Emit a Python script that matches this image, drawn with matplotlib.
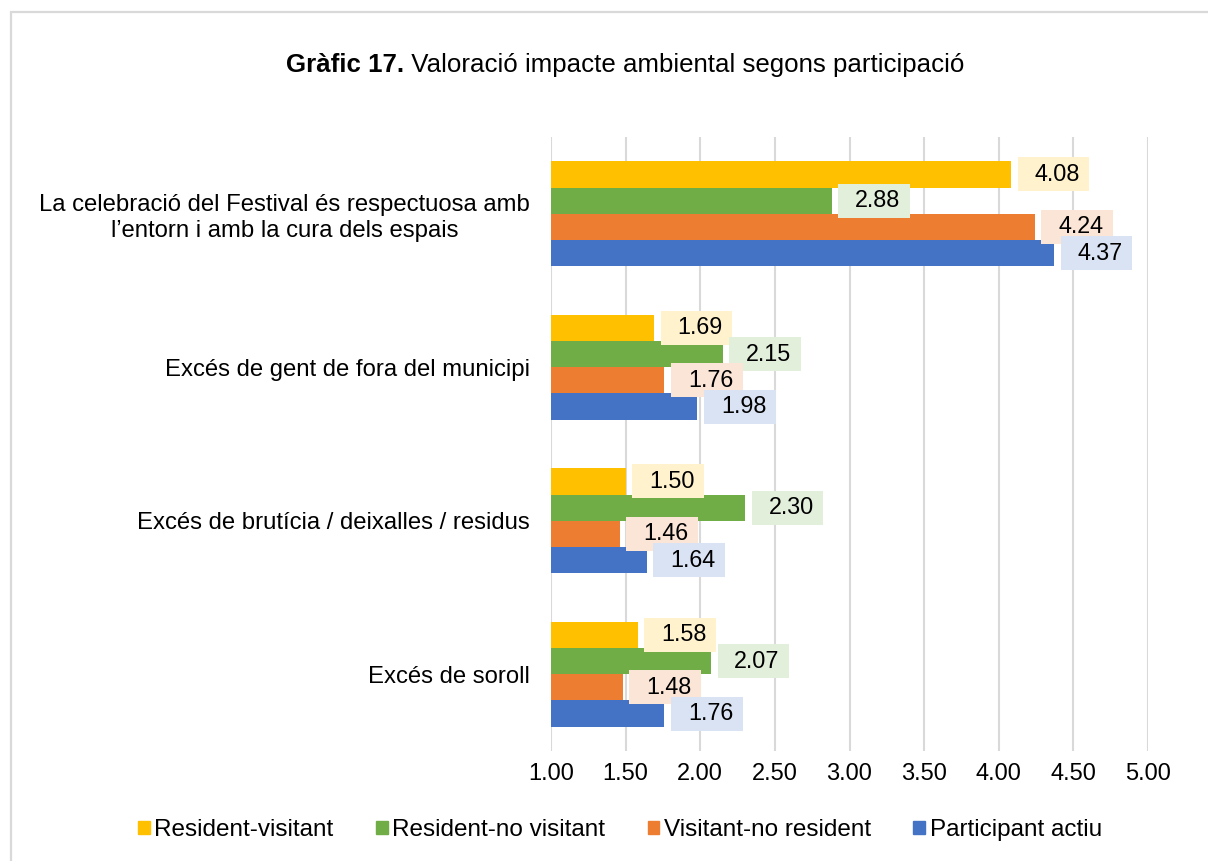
import matplotlib
matplotlib.use("Agg")
import matplotlib.pyplot as plt
import numpy as np
from matplotlib.path import Path
from matplotlib.patches import Patch, Rectangle

plt.rcParams["font.family"] = ["Liberation Sans", "DejaVu Sans"]

# data, top to bottom
categories = [
    "La celebració del Festival és respectuosa amb\nl\u2019entorn i amb la cura dels espais",
    "Excés de gent de fora del municipi",
    "Excés de brutícia / deixalles / residus",
    "Excés de soroll",
]
series_names = ["Resident-visitant", "Resident-no visitant", "Visitant-no resident", "Participant actiu"]
resident_visitant = [4.08, 1.69, 1.50, 1.58]
resident_no_visitant = [2.88, 2.15, 2.30, 2.07]
visitant_no_resident = [4.24, 1.76, 1.46, 1.48]
participant_actiu = [4.37, 1.98, 1.64, 1.76]
x_ticks = [1.00, 1.50, 2.00, 2.50, 3.00, 3.50, 4.00, 4.50, 5.00]

series = [resident_visitant, resident_no_visitant, visitant_no_resident, participant_actiu]
colors = ["#FFC000", "#70AD47", "#ED7D31", "#4472C4"]
box_colors = ["#FFF2CC", "#E2EFDA", "#FBE5D6", "#DAE3F3"]


def label_box(x0, y0, width, height, mutation_size):
    # wider padding on the left, like the Excel data label boxes
    l = x0 - 0.72 * mutation_size
    r = x0 + width + 0.40 * mutation_size
    b = y0 - 0.24 * mutation_size
    t = y0 + height + 0.24 * mutation_size
    return Path([(l, b), (r, b), (r, t), (l, t), (l, b)], closed=True)


fig = plt.figure(figsize=(12.08, 8.61), dpi=100)
ax = fig.add_axes([551 / 1208, 1 - 751 / 861, (1148 - 551) / 1208, (751 - 137) / 861])

h = 0.171
pos = np.arange(len(categories))
for i, (vals, c, bc) in enumerate(zip(series, colors, box_colors)):
    y = pos + (i - 1.5) * h
    ax.barh(y, vals, height=h, color=c, zorder=2, label=series_names[i])
    for v, yy in zip(vals, y):
        ax.annotate(f"{v:.2f}", xy=(v, yy), xytext=(17, 0), textcoords="offset points",
                    ha="left", va="center", fontsize=16.8, color="black", zorder=4,
                    bbox=dict(boxstyle=label_box, fc=bc, ec="none"))

ax.set_xlim(1, 5)
ax.set_ylim(len(categories) - 0.5, -0.5)
ax.set_xticks(x_ticks)
ax.set_xticklabels([f"{t:.2f}" for t in x_ticks])
ax.set_yticks(pos)
ax.set_yticklabels(categories, multialignment="center")
ax.tick_params(axis="y", length=0, pad=15, labelsize=17.2)
ax.tick_params(axis="x", length=0, pad=9, labelsize=17)
ax.grid(axis="x", color="#D9D9D9", lw=1.5, zorder=0)
ax.set_axisbelow(True)
for s in ax.spines.values():
    s.set_visible(False)

# legend
handles = [Patch(color=c) for c in colors]
fig.legend(handles, series_names, loc="center", bbox_to_anchor=(620 / 1208, 1 - 830 / 861),
           ncol=4, frameon=False, fontsize=17.5, handlelength=0.48, handleheight=0.48,
           handletextpad=0.18, columnspacing=1.75)

# title: bold part + regular part, centred together
t1 = fig.text(0.2, 1 - 65 / 861, "Gràfic 17.", fontsize=18.6, fontweight="bold",
              ha="left", va="center")
t2 = fig.text(0.2, 1 - 65 / 861, " Valoració impacte ambiental segons participació",
              fontsize=18.6, ha="left", va="center")
fig.canvas.draw()
r = fig.canvas.get_renderer()
w1 = t1.get_window_extent(r).width
w2 = t2.get_window_extent(r).width
x0 = 625 - (w1 + w2) / 2
t1.set_x(x0 / 1208)
t2.set_x((x0 + w1) / 1208)

# outer chart border (runs off the right and bottom edges)
fig.patches.append(Rectangle((10.5 / 1208, -0.05), 1.1, 1 - 12 / 861 + 0.05,
                             transform=fig.transFigure, fill=False, ec="#D9D9D9", lw=1.6))

fig.savefig("out.png", dpi=100)
